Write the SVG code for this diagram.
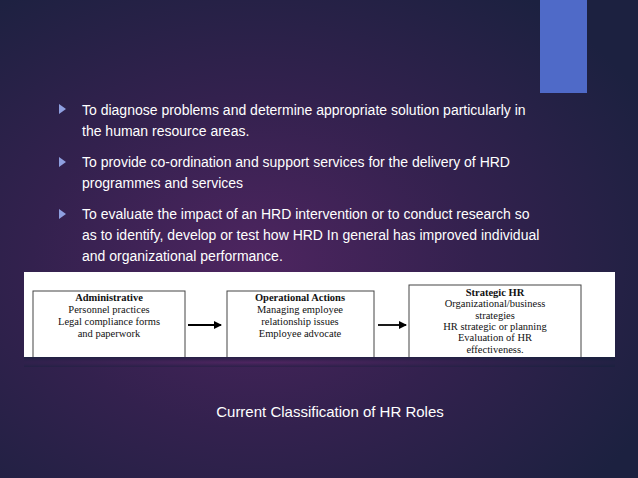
<svg xmlns="http://www.w3.org/2000/svg" width="638" height="478" viewBox="0 0 638 478">
<defs>
<radialGradient id="bg" cx="0.4" cy="0.55" r="0.7">
<stop offset="0" stop-color="#4e2560"/><stop offset="0.5" stop-color="#33214e"/><stop offset="1" stop-color="#1c2140"/>
</radialGradient>
<marker id="ah" markerWidth="8" markerHeight="8" refX="7" refY="4" orient="auto" markerUnits="userSpaceOnUse"><path d="M0,0 L8,4 L0,8 Z" fill="#000"/></marker>
<style>
.b{font-family:"Liberation Sans",Arial,sans-serif;font-size:14px;fill:#fff}
.t{font-family:"Liberation Serif","Times New Roman",serif;font-size:10.5px;fill:#111;text-anchor:middle}
.h{font-weight:bold}
.bx{fill:#fff;stroke:#444;stroke-width:1}
</style>
</defs>
<rect width="638" height="478" fill="url(#bg)"/>
<rect x="540" y="0" width="47" height="93" fill="#4f6ac8"/>
<g id="bullets">
<path d="M59,104 L66,109 L59,114 Z" fill="#8fa0e0"/>
<path d="M59,157 L66,162 L59,167 Z" fill="#8fa0e0"/>
<path d="M59,209 L66,214 L59,219 Z" fill="#8fa0e0"/>
<text class="b" x="82" y="115">To diagnose problems and determine appropriate solution particularly in</text>
<text class="b" x="82" y="136">the human resource areas.</text>
<text class="b" x="82" y="167">To provide co-ordination and support services for the delivery of HRD</text>
<text class="b" x="82" y="188">programmes and services</text>
<text class="b" x="82" y="219">To evaluate the impact of an HRD intervention or to conduct research so</text>
<text class="b" x="82" y="240">as to identify, develop or test how HRD In general has improved individual</text>
<text class="b" x="82" y="261">and organizational performance.</text>
</g>
<rect x="24" y="272" width="591" height="85" fill="#fff"/>
<g id="n1"><rect class="bx" x="33" y="291" width="152" height="70"/>
<text class="t" x="109" y="301"><tspan class="h">Administrative</tspan><tspan x="109" dy="12">Personnel practices</tspan><tspan x="109" dy="12">Legal compliance forms</tspan><tspan x="109" dy="12">and paperwork</tspan></text></g>
<g id="n2"><rect class="bx" x="227" y="291" width="147" height="70"/>
<text class="t" x="300" y="301"><tspan class="h">Operational Actions</tspan><tspan x="300" dy="12">Managing employee</tspan><tspan x="300" dy="12">relationship issues</tspan><tspan x="300" dy="12">Employee advocate</tspan></text></g>
<g id="n3"><rect class="bx" x="409" y="285" width="172" height="76"/>
<text class="t" x="495" y="296"><tspan class="h">Strategic HR</tspan><tspan x="495" dy="11.3">Organizational/business</tspan><tspan x="495" dy="11.3">strategies</tspan><tspan x="495" dy="11.3">HR strategic or planning</tspan><tspan x="495" dy="11.3">Evaluation of HR</tspan><tspan x="495" dy="11.3">effectiveness.</tspan></text></g>
<rect x="24" y="357" width="591" height="10" fill="url(#bg)"/>
<g id="connectors" stroke="#000" stroke-width="1.8">
<line x1="188" y1="325" x2="221" y2="325" marker-end="url(#ah)"/>
<line x1="378" y1="325" x2="406" y2="325" marker-end="url(#ah)"/>
</g>
<text x="330" y="417" text-anchor="middle" font-family="'Liberation Sans',Arial,sans-serif" font-size="15" fill="#fff">Current Classification of HR Roles</text>
</svg>
